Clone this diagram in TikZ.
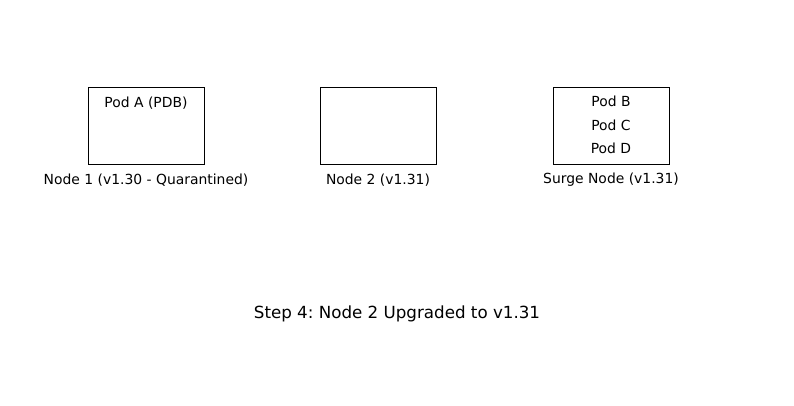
\documentclass[tikz,border=0pt]{standalone}
\usepackage{fontspec}
\setmainfont{DejaVu Sans}
\frenchspacing
\begin{document}
\begin{tikzpicture}[x=1pt,y=-1pt,
  nodebox/.style={draw=black,line width=0.9pt,minimum width=116pt,minimum height=77pt,inner sep=0pt},
  lbl/.style={font=\fontsize{13.9}{16}\selectfont,inner sep=0pt,anchor=base},
  ttl/.style={font=\fontsize{16.7}{19}\selectfont,inner sep=0pt,anchor=base}]
\useasboundingbox[fill=white] (0,0) rectangle (794,405);
\node[nodebox] (n1) at (146,125.5) {};
\node[nodebox] (n2) at (378,125.5) {};
\node[nodebox] (n3) at (611,125.5) {};
\node[lbl] (pa) at (146,107) {Pod A (PDB)};
\node[lbl] (pb) at (611,106) {Pod B};
\node[lbl] (pc) at (611,130) {Pod C};
\node[lbl] (pd) at (611,153) {Pod D};
\node[lbl] (l1) at (146,184) {Node 1 (v1.30 - Quarantined)};
\node[lbl] (l2) at (378,184) {Node 2 (v1.31)};
\node[lbl] (l3) at (611,183) {Surge Node (v1.31)};
\node[ttl] (t) at (397,318) {Step 4: Node 2 Upgraded to v1.31};
\end{tikzpicture}
\end{document}
